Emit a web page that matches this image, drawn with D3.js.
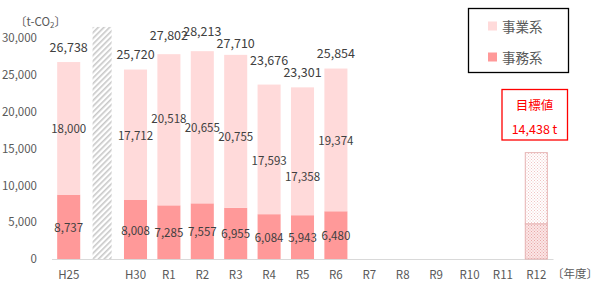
<!DOCTYPE html>
<html>
<head>
<meta charset="utf-8">
<script src="https://cdn.jsdelivr.net/npm/d3@7"></script>
<style>
  body { margin: 0; background: #fff; }
  text { font-family: "Noto Sans CJK JP", "Noto Sans", sans-serif; }
</style>
</head>
<body>
<div id="chart"></div>
<script>
// Données (t-CO2)
const years = ["H25", "", "H30", "R1", "R2", "R3", "R4", "R5", "R6", "R7", "R8", "R9", "R10", "R11", "R12"];
const jimuValues   = [8737, null, 8008, 7285, 7557, 6955, 6084, 5943, 6480, null, null, null, null, null, null];   // 事務系
const jigyouValues = [18000, null, 17712, 20518, 20655, 20755, 17593, 17358, 19374, null, null, null, null, null, null]; // 事業系
const totals       = [26738, null, 25720, 27802, 28213, 27710, 23676, 23301, 25854, null, null, null, null, null, null];
const yTicks = [0, 5000, 10000, 15000, 20000, 25000, 30000];

// objectif R12
const targetYear = "R12";
const targetTotal = 14438;
const targetJimu = 4750;   // estimé
// barre de rupture entre H25 et H30
const breakYear = "";
const breakValue = 31500;

// décalages manuels des étiquettes (comme dans l'original Excel)
const upperShift = {R1: -12, R3: 5, R4: 11, R5: 25};
const totalShift = {R1: -4, R2: -5, R3: 4, R4: -9};

const W = 601, H = 292;
const margin = {top: 38, right: 48, bottom: 33, left: 52};
const x = d3.scaleBand().domain(years).range([margin.left, W - margin.right]).paddingInner(0.31).paddingOuter(0.155);
const y = d3.scaleLinear().domain([0, 30000]).range([H - margin.bottom, margin.top]);

const svg = d3.select("#chart").append("svg")
    .attr("width", W).attr("height", H);

const defs = svg.append("defs");
const stripe = defs.append("pattern").attr("id", "stripe")
    .attr("patternUnits", "userSpaceOnUse").attr("width", 4).attr("height", 4)
    .attr("patternTransform", "rotate(45)");
stripe.append("rect").attr("width", 4).attr("height", 4).attr("fill", "#fff");
stripe.append("rect").attr("width", 1.6).attr("height", 4).attr("fill", "#c8c8c8");

function dots(id, bg, fg) {
    const p = defs.append("pattern").attr("id", id)
        .attr("patternUnits", "userSpaceOnUse").attr("width", 3).attr("height", 3);
    p.append("rect").attr("width", 3).attr("height", 3).attr("fill", bg);
    p.append("rect").attr("width", 1).attr("height", 1).attr("fill", fg);
    p.append("rect").attr("x", 1.5).attr("y", 1.5).attr("width", 1).attr("height", 1).attr("fill", fg);
}
dots("dotLight", "#fff", "#f0c4c4");
dots("dotDense", "#fbe6e6", "#e8a8a8");

const colJigyou = "#ffdada", colJimu = "#ff9999";
const txt = "#404040", axisTxt = "#595959";

// axe X (ligne)
svg.append("line")
    .attr("x1", margin.left).attr("x2", W - margin.right + 0.5)
    .attr("y1", y(0) + 0.5).attr("y2", y(0) + 0.5)
    .attr("stroke", "#d9d9d9");

// axe Y
const yAxis = svg.append("g")
    .attr("transform", "translate(" + 37 + ",0)")
    .call(d3.axisLeft(y).tickValues(yTicks).tickSize(0).tickPadding(0).tickFormat(d3.format(",")));
yAxis.select(".domain").remove();
yAxis.selectAll("text").attr("fill", axisTxt).style("font-size", "11.5px")
    .style("font-family", "'Noto Sans CJK JP', sans-serif");

// étiquettes X
const xAxis = svg.append("g")
    .attr("transform", "translate(0," + (y(0) + 10) + ")")
    .call(d3.axisBottom(x).tickSize(0).tickPadding(2));
xAxis.select(".domain").remove();
xAxis.selectAll("text").attr("fill", axisTxt).style("font-size", "11.5px")
    .style("font-family", "'Noto Sans CJK JP', sans-serif");

const data = years.map((c, i) => ({c, jimu: jimuValues[i], jigyou: jigyouValues[i], total: totals[i]}))
    .filter(d => d.jimu != null);

const bw = x.bandwidth();

// 事務系
svg.selectAll("rect.jimu").data(data).enter().append("rect")
    .attr("class", "jimu")
    .attr("x", d => x(d.c)).attr("width", bw)
    .attr("y", d => y(d.jimu)).attr("height", d => y(0) - y(d.jimu))
    .attr("fill", colJimu);
// 事業系
svg.selectAll("rect.jigyou").data(data).enter().append("rect")
    .attr("class", "jigyou")
    .attr("x", d => x(d.c)).attr("width", bw)
    .attr("y", d => y(d.jimu + d.jigyou)).attr("height", d => y(d.jimu) - y(d.jimu + d.jigyou))
    .attr("fill", colJigyou);

// barre hachurée
svg.append("rect")
    .attr("x", x(breakYear) + 2).attr("width", bw - 4)
    .attr("y", y(breakValue)).attr("height", y(0) - y(breakValue))
    .attr("fill", "url(#stripe)");

// objectif
svg.append("rect")
    .attr("x", x(targetYear) + 0.5).attr("width", bw - 1)
    .attr("y", y(targetTotal)).attr("height", y(targetJimu) - y(targetTotal))
    .attr("fill", "url(#dotLight)").attr("stroke", "#e6b4b4");
svg.append("rect")
    .attr("x", x(targetYear) + 0.5).attr("width", bw - 1)
    .attr("y", y(targetJimu)).attr("height", y(0) - y(targetJimu))
    .attr("fill", "url(#dotDense)").attr("stroke", "#e6b4b4");

// étiquettes
const lab = (sel) => sel.attr("text-anchor", "middle").attr("dominant-baseline", "central")
    .attr("fill", txt).style("font-size", "11.5px");
svg.selectAll("text.lj").data(data).enter().append("text").attr("class", "lj")
    .attr("x", d => x(d.c) + bw / 2).attr("y", d => y(d.jimu / 2))
    .text(d => d3.format(",")(d.jimu)).call(lab);
svg.selectAll("text.lg").data(data).enter().append("text").attr("class", "lg")
    .attr("x", d => x(d.c) + bw / 2).attr("y", d => y(d.jimu + d.jigyou / 2) + (upperShift[d.c] || 0))
    .text(d => d3.format(",")(d.jigyou)).call(lab);
svg.selectAll("text.lt").data(data).enter().append("text").attr("class", "lt")
    .attr("x", d => x(d.c) + bw / 2).attr("y", d => y(d.total) - 16 + (totalShift[d.c] || 0))
    .text(d => d3.format(",")(d.total)).call(lab).style("font-size", "12.5px");

// unités
const unit = svg.append("text").attr("x", 15).attr("y", 21).attr("dominant-baseline", "central")
    .attr("fill", axisTxt).style("font-size", "11.5px");
unit.append("tspan").text("〔t-CO");
unit.append("tspan").attr("dy", 3).style("font-size", "8px").text("2");
unit.append("tspan").attr("dy", -3).text("〕");
svg.append("text").attr("x", 552).attr("y", 273).attr("dominant-baseline", "central")
    .attr("fill", axisTxt).style("font-size", "11.5px").text("〔年度〕");

// légende
svg.append("rect").attr("x", 468.5).attr("y", 8.5).attr("width", 100).attr("height", 64)
    .attr("fill", "#fff").attr("stroke", "#000").attr("stroke-width", 1.3);
[["事業系", colJigyou, 26], ["事務系", colJimu, 57]].forEach(([t, c, cy]) => {
    svg.append("rect").attr("x", 488).attr("y", cy - 4.5).attr("width", 9).attr("height", 9).attr("fill", c);
    svg.append("text").attr("x", 502).attr("y", cy).attr("dominant-baseline", "central")
        .attr("fill", axisTxt).style("font-size", "13.5px").text(t);
});

// encadré objectif
svg.append("rect").attr("x", 502).attr("y", 89.5).attr("width", 65.5).attr("height", 50.5)
    .attr("fill", "#fff").attr("stroke", "#ff0000").attr("stroke-width", 1.3);
svg.append("text").attr("x", 534.5).attr("y", 104).attr("text-anchor", "middle").attr("dominant-baseline", "central")
    .attr("fill", "#ff0000").style("font-size", "12.5px").text("目標値");
svg.append("text").attr("x", 534.5).attr("y", 128).attr("text-anchor", "middle").attr("dominant-baseline", "central")
    .attr("fill", "#ff0000").style("font-size", "12.5px").text(d3.format(",")(targetTotal) + " t");
</script>
</body>
</html>
